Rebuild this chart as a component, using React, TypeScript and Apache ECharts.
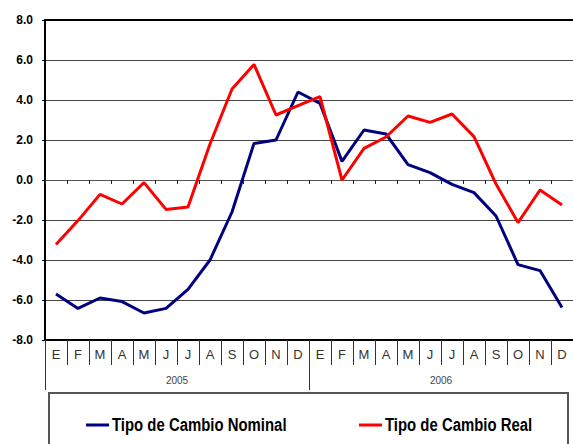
import React, { useEffect, useRef } from "react";
import * as echarts from "echarts";

const months = ["E", "F", "M", "A", "M", "J", "J", "A", "S", "O", "N", "D", "E", "F", "M", "A", "M", "J", "J", "A", "S", "O", "N", "D"];
const years = ["2005", "2006"];
const nominal = [-5.7, -6.42, -5.9, -6.08, -6.65, -6.42, -5.47, -4.0, -1.6, 1.83, 2.0, 4.4, 3.83, 0.93, 2.5, 2.3, 0.77, 0.37, -0.22, -0.63, -1.8, -4.23, -4.53, -6.38];
const real = [-3.22, -2.03, -0.72, -1.2, -0.13, -1.47, -1.35, 1.8, 4.55, 5.78, 3.25, 3.72, 4.17, 0.0, 1.58, 2.15, 3.2, 2.88, 3.3, 2.17, -0.2, -2.13, -0.5, -1.25];
const nameNominal = "Tipo de Cambio Nominal";
const nameReal = "Tipo de Cambio Real";
const colorNominal = "#000080";
const colorReal = "#ff0000";

const sans = "'Liberation Sans', Arial, sans-serif";

function legendItem(x: number, y: number, color: string, label: string) {
  return {
    type: "group",
    silent: true,
    children: [
      { type: "rect", shape: { x: x, y: y - 1.5, width: 23, height: 3 }, style: { fill: color } },
      {
        type: "text",
        x: x + 26,
        y: y,
        scaleX: 0.785,
        style: {
          x: 0,
          y: 0,
          text: label,
          fontFamily: sans,
          fontWeight: "bold",
          fontSize: 19,
          fill: "#000",
          verticalAlign: "middle",
          align: "left",
        },
      },
    ],
  };
}

export default function App() {
  const ref = useRef<HTMLDivElement>(null);
  useEffect(() => {
    if (!ref.current) return;
    const chart = echarts.init(ref.current, undefined, { renderer: "svg" });
    chart.setOption({
      animation: false,
      backgroundColor: "#ffffff",
      grid: { left: 45, right: 0, top: 20, bottom: 104, containLabel: false },
      xAxis: [
        {
          type: "category",
          data: months,
          boundaryGap: true,
          axisLine: { onZero: true, lineStyle: { color: "#555", width: 1 } },
          axisTick: { show: true, length: 4, lineStyle: { color: "#222", width: 1 }, interval: 0 },
          axisLabel: { show: false },
          splitLine: { show: false },
          z: 3,
        },
        {
          type: "category",
          data: months,
          position: "bottom",
          boundaryGap: true,
          axisLine: { onZero: false, lineStyle: { color: "#000", width: 2 } },
          axisTick: { show: true, length: 25, interval: 0, lineStyle: { color: "#333", width: 1 } },
          axisLabel: { show: true, interval: 0, margin: 8, fontFamily: sans, fontSize: 13, color: "#333" },
          splitLine: { show: false },
        },
        {
          type: "category",
          data: years,
          position: "bottom",
          offset: 25,
          boundaryGap: true,
          axisLine: { show: false, onZero: false },
          axisTick: { show: true, length: 25, interval: 0, lineStyle: { color: "#333", width: 1 } },
          axisLabel: { show: true, interval: 0, margin: 10, fontFamily: sans, fontSize: 10, color: "#444" },
          splitLine: { show: false },
        },
        {
          type: "category",
          data: months,
          position: "top",
          axisLine: { onZero: false, lineStyle: { color: "#000", width: 2 } },
          axisTick: { show: false },
          axisLabel: { show: false },
          splitLine: { show: false },
        },
      ],
      yAxis: {
        type: "value",
        min: -8,
        max: 8,
        interval: 2,
        axisLine: { show: true, lineStyle: { color: "#000", width: 2 } },
        axisTick: { show: true, length: 3, lineStyle: { color: "#000", width: 1 } },
        axisLabel: {
          margin: 12,
          fontFamily: sans,
          fontWeight: "bold",
          fontSize: 12,
          color: "#000",
          formatter: (v: number) => v.toFixed(1),
        },
        splitLine: { show: true, lineStyle: { color: "#444", width: 1 } },
      },
      legend: { show: false, data: [nameNominal, nameReal] },
      graphic: [
        {
          type: "rect",
          silent: true,
          shape: { x: 49, y: 393, width: 519, height: 70 },
          style: { fill: "none", stroke: "#555", lineWidth: 2 },
        },
        legendItem(86, 425, colorNominal, nameNominal),
        legendItem(359, 425, colorReal, nameReal),
      ],
      series: [
        {
          name: nameNominal,
          type: "line",
          xAxisIndex: 0,
          data: nominal,
          symbol: "none",
          lineStyle: { color: colorNominal, width: 3 },
          itemStyle: { color: colorNominal },
          z: 4,
        },
        {
          name: nameReal,
          type: "line",
          xAxisIndex: 0,
          data: real,
          symbol: "none",
          lineStyle: { color: colorReal, width: 3 },
          itemStyle: { color: colorReal },
          z: 5,
        },
      ],
    });
    return () => chart.dispose();
  }, []);
  return <div ref={ref} style={{ position: "fixed", left: 0, top: 0, width: 573, height: 444 }} />;
}
